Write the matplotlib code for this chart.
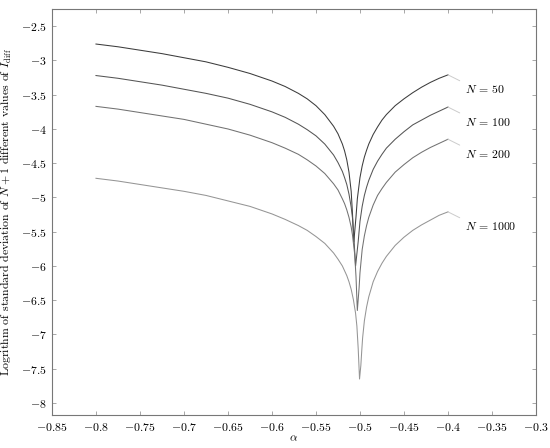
import matplotlib

matplotlib.use("Agg")
import matplotlib.pyplot as plt
from matplotlib.ticker import FuncFormatter, MultipleLocator

plt.rcParams["font.family"] = "serif"
plt.rcParams["font.serif"] = ["cmr10"]
plt.rcParams["mathtext.fontset"] = "cm"
plt.rcParams["axes.formatter.use_mathtext"] = True

# values, one (alpha, log-std) list per N
alpha_50 = [-0.80, -0.775, -0.75, -0.725, -0.70, -0.675, -0.65, -0.625, -0.60, -0.585,
            -0.57, -0.56, -0.55, -0.54, -0.53, -0.525, -0.52, -0.5175, -0.515,
            -0.5125, -0.51, -0.5085, -0.507, -0.5045, -0.503, -0.50, -0.4975, -0.495,
            -0.4925, -0.49, -0.485, -0.48, -0.475, -0.47, -0.46, -0.45, -0.44, -0.43,
            -0.42, -0.41, -0.40]
logstd_50 = [-2.76, -2.80, -2.85, -2.90, -2.96, -3.02, -3.10, -3.19, -3.30, -3.38,
             -3.48, -3.56, -3.66, -3.79, -3.96, -4.07, -4.22, -4.32, -4.45,
             -4.63, -4.91, -5.24, -5.65, -5.28, -5.02, -4.71, -4.54, -4.41,
             -4.31, -4.22, -4.08, -3.97, -3.87, -3.79, -3.66, -3.56, -3.47, -3.39,
             -3.32, -3.26, -3.21]

alpha_100 = [-0.80, -0.775, -0.75, -0.725, -0.70, -0.675, -0.65, -0.625, -0.60, -0.585,
             -0.57, -0.56, -0.55, -0.54, -0.53, -0.525, -0.52, -0.5175, -0.515,
             -0.5125, -0.51, -0.5085, -0.507, -0.505, -0.502, -0.50, -0.4975, -0.495,
             -0.4925, -0.49, -0.485, -0.48, -0.475, -0.47, -0.46, -0.45, -0.44, -0.43,
             -0.42, -0.41, -0.40]
logstd_100 = [-3.22, -3.26, -3.31, -3.36, -3.42, -3.48, -3.55, -3.64, -3.75, -3.83,
              -3.93, -4.01, -4.10, -4.22, -4.38, -4.49, -4.62, -4.71, -4.81,
              -4.95, -5.14, -5.30, -5.57, -6.00, -5.64, -5.35, -5.13, -4.97,
              -4.85, -4.75, -4.59, -4.47, -4.37, -4.28, -4.15, -4.04, -3.94, -3.87,
              -3.80, -3.74, -3.68]

alpha_200 = [-0.80, -0.775, -0.75, -0.725, -0.70, -0.675, -0.65, -0.625, -0.60, -0.585,
             -0.57, -0.56, -0.55, -0.54, -0.53, -0.525, -0.52, -0.5175, -0.515,
             -0.5125, -0.51, -0.5085, -0.506, -0.5045, -0.503, -0.501, -0.50, -0.4975,
             -0.495, -0.4925, -0.49, -0.485, -0.48, -0.475, -0.47, -0.46, -0.45, -0.44,
             -0.43, -0.42, -0.41, -0.40]
logstd_200 = [-3.67, -3.71, -3.76, -3.81, -3.86, -3.93, -4.00, -4.09, -4.20, -4.28,
              -4.37, -4.45, -4.54, -4.65, -4.80, -4.89, -5.02, -5.09, -5.18,
              -5.29, -5.43, -5.55, -5.83, -6.16, -6.65, -6.32, -6.10, -5.76,
              -5.56, -5.41, -5.29, -5.11, -4.97, -4.87, -4.78, -4.63, -4.52, -4.42,
              -4.34, -4.27, -4.21, -4.15]

alpha_1000 = [-0.80, -0.775, -0.75, -0.725, -0.70, -0.675, -0.65, -0.625, -0.60, -0.585,
              -0.57, -0.56, -0.55, -0.54, -0.53, -0.525, -0.52, -0.5175, -0.515,
              -0.5125, -0.51, -0.5075, -0.505, -0.5035, -0.502, -0.5005, -0.499, -0.498,
              -0.497, -0.495, -0.4925, -0.49, -0.485, -0.48, -0.475, -0.47, -0.46,
              -0.45, -0.44, -0.43, -0.42, -0.41, -0.40]
logstd_1000 = [-4.72, -4.76, -4.81, -4.86, -4.91, -4.97, -5.05, -5.13, -5.24, -5.32,
               -5.41, -5.48, -5.57, -5.67, -5.81, -5.90, -6.00, -6.07, -6.14,
               -6.23, -6.34, -6.49, -6.69, -6.88, -7.21, -7.65, -7.45, -7.24,
               -7.05, -6.80, -6.60, -6.45, -6.23, -6.08, -5.96, -5.86, -5.70,
               -5.58, -5.48, -5.40, -5.33, -5.26, -5.21]

curve_labels = [r"$N\,=\,50$", r"$N\,=\,100$", r"$N\,=\,200$", r"$N\,=\,1000$"]
curve_colors = ["#3c3c3c", "#555555", "#727272", "#959595"]

fig = plt.figure(figsize=(5.5, 4.48), dpi=100)
ax = fig.add_axes([0.0945, 0.0737, 0.88, 0.906])

curves = [(alpha_50, logstd_50), (alpha_100, logstd_100),
          (alpha_200, logstd_200), (alpha_1000, logstd_1000)]
for (a, v), label, color in zip(curves, curve_labels, curve_colors):
    ax.plot(a, v, color=color, lw=0.75)
    # pin-style label hanging off the right end of each curve
    ax.annotate(label, xy=(a[-1], v[-1]), xytext=(17, -14.5),
                textcoords="offset pixels", ha="left", va="center", fontsize=8.5,
                arrowprops=dict(arrowstyle="-", color="#cccccc", lw=0.7,
                                relpos=(0, 1), shrinkA=2, shrinkB=0))

ax.set_xlim(-0.85, -0.3)
ax.set_ylim(-8.175, -2.25)
ax.xaxis.set_major_locator(MultipleLocator(0.05))
ax.yaxis.set_major_locator(MultipleLocator(0.5))
ax.xaxis.set_major_formatter(FuncFormatter(lambda x, pos: f"${round(x, 2):g}$"))
ax.yaxis.set_major_formatter(FuncFormatter(lambda y, pos: f"${round(y, 2):g}$"))
ax.tick_params(direction="in", top=True, right=True, length=3, width=0.6,
               color="#999999", labelsize=8.5, pad=4)
for s in ax.spines.values():
    s.set_color("#777777")
    s.set_linewidth(0.8)

ax.set_xlabel(r"$\alpha$", fontsize=8.5, labelpad=1)
ax.set_ylabel(r"Logrithm of standard deviation of $N+1$ different values of $I_{\mathrm{diff}}$",
              fontsize=8.5, labelpad=5)

fig.savefig("out.png", dpi=100)
